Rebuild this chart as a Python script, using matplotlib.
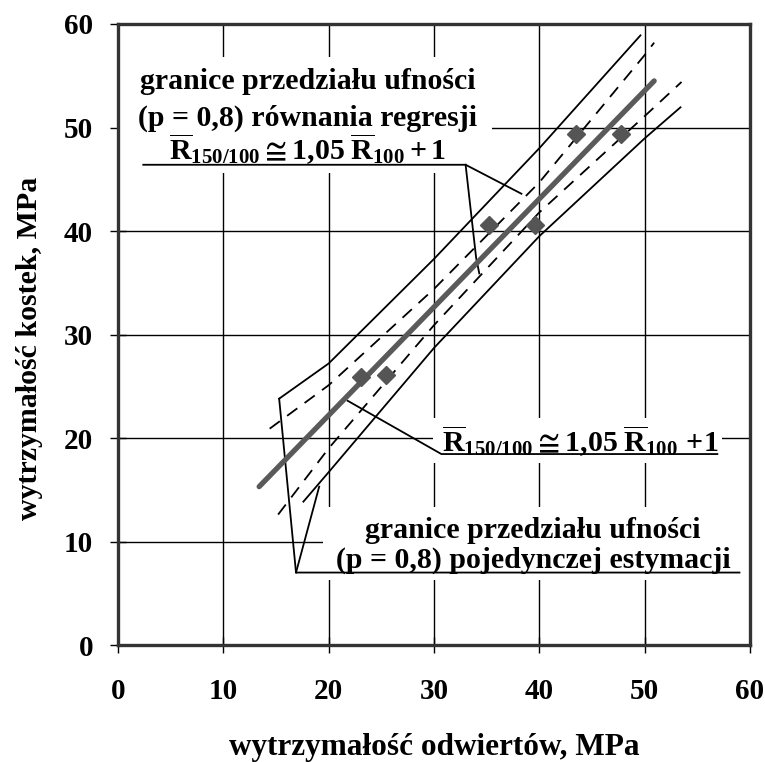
import matplotlib
matplotlib.use("Agg")
import matplotlib.pyplot as plt
from matplotlib.patches import Rectangle

# ---- data ----
x_pts = [23.1, 25.4, 35.2, 39.6, 43.5, 47.8]
y_pts = [25.9, 26.1, 40.6, 40.6, 49.4, 49.4]

reg_x = [13.4, 50.9]
reg_y = [15.3, 54.5]

up_solid_x = [15.3, 20, 30, 40, 49.6]
up_solid_y = [23.8, 27.2, 37.3, 48.0, 58.9]
up_dash_x = [14.4, 20, 30, 40, 50, 50.9]
up_dash_y = [20.9, 25.1, 34.4, 44.7, 57.0, 58.2]
lo_dash_x = [15.2, 20, 30, 40, 50, 53.5]
lo_dash_y = [12.6, 19.0, 30.9, 41.8, 51.1, 54.4]
lo_solid_x = [17.6, 20, 30, 40, 50, 53.4]
lo_solid_y = [13.85, 16.7, 28.7, 39.5, 48.95, 51.95]

xticks = [0, 10, 20, 30, 40, 50, 60]
yticks = [0, 10, 20, 30, 40, 50, 60]

xlabel = "wytrzymałość odwiertów, MPa"
ylabel = "wytrzymałość kostek, MPa"
ann_top = ["granice przedziału ufności", "(p = 0,8) równania regresji"]
eq_top = r"$\overline{\mathrm{R}}_{150/100}\cong 1{,}05\;\overline{\mathrm{R}}_{100}+1$"
eq_mid = r"$\overline{\mathrm{R}}_{150/100}\cong 1{,}05\;\overline{\mathrm{R}}_{100}\,+\!1$"
ann_bot = ["granice przedziału ufności", "(p = 0,8) pojedynczej estymacji"]

plt.rcParams['font.family'] = ['Liberation Serif', 'DejaVu Serif']
plt.rcParams['font.weight'] = 'bold'
plt.rcParams['mathtext.fontset'] = 'custom'
plt.rcParams['mathtext.rm'] = 'Liberation Serif:bold'
plt.rcParams['mathtext.bf'] = 'Liberation Serif:bold'
plt.rcParams['mathtext.it'] = 'Liberation Serif:bold:italic'

FS = 21.5
FT = 21
fig = plt.figure(figsize=(7.65, 7.62), dpi=100)
ax = fig.add_axes([118/765, 1 - 645/762, (750-118)/765, (645-24)/762])
ax.set_xlim(0, 60)
ax.set_ylim(0, 60)
ax.set_xticks(xticks)
ax.set_yticks(yticks)
ax.set_xticklabels([str(v) for v in xticks], fontsize=FT, fontweight='bold')
ax.set_yticklabels([str(v) for v in yticks], fontsize=FT, fontweight='bold')
ax.tick_params(direction='inout', length=12, width=1, color='black')
ax.tick_params(axis='x', pad=18)
ax.tick_params(axis='y', pad=12)
ax.set_axisbelow(True)
ax.grid(True, color='black', linewidth=1.0)
for s in ax.spines.values():
    s.set_linewidth(2.4)
    s.set_color('#333333')

# white masks behind the annotations (grid interrupted)
for (x0, y0, w, h) in [(0, 45.6, 35.5, 11.2), (29.9, 17.6, 27.4, 4.3), (19.5, 6.3, 40.5, 7.0)]:
    ax.add_patch(Rectangle((x0, y0), w, h, facecolor='white', edgecolor='none', zorder=1))

ax.plot(up_solid_x, up_solid_y, color='black', lw=1.3, zorder=3)
ax.plot(lo_solid_x, lo_solid_y, color='black', lw=1.3, zorder=3)
ax.plot(up_dash_x, up_dash_y, color='black', lw=1.3, dashes=(7, 5), zorder=3)
ax.plot(lo_dash_x, lo_dash_y, color='black', lw=1.3, dashes=(7, 5), zorder=3)
ax.plot(reg_x, reg_y, color='#5a5a5a', lw=3.8, solid_capstyle='round', zorder=4)
ax.plot(x_pts, y_pts, linestyle='none', marker='D', markersize=9.5,
        color='#555555', zorder=5)

# leader lines / underlines
lk = dict(color='black', lw=1.3, zorder=3)
ax.plot([2.4, 33.0, 38.3], [46.4, 46.4, 43.6], **lk)
ax.plot([33.0, 34.0, 34.3], [46.4, 37.4, 35.9], **lk)
ax.plot([21.8, 30.7, 56.9], [23.6, 18.45, 18.45], **lk)
ax.plot([15.3, 16.9, 59.0], [23.8, 7.0, 7.0], **lk)
ax.plot([16.9, 19.1], [7.0, 15.3], **lk)

tk = dict(ha='center', va='center', fontsize=FS, fontweight='bold', zorder=6)
ax.text(18.0, 54.4, ann_top[0], **tk)
ax.text(18.0, 50.9, ann_top[1], **tk)
ax.text(18.0, 47.9, eq_top, **tk)
ax.text(43.9, 19.7, eq_mid, **tk)
ax.text(39.4, 11.1, ann_bot[0], **tk)
ax.text(39.4, 8.2, ann_bot[1], **tk)

ax.set_xlabel(xlabel, fontsize=22.5, fontweight='bold')
ax.set_ylabel(ylabel, fontsize=21.5, fontweight='bold')
ax.xaxis.set_label_coords(0.5, -0.165)
ax.xaxis.label.set_va('center')
ax.yaxis.set_label_coords(-0.14, 0.478)
ax.yaxis.label.set_va('center')

fig.savefig("out.png", dpi=100)
